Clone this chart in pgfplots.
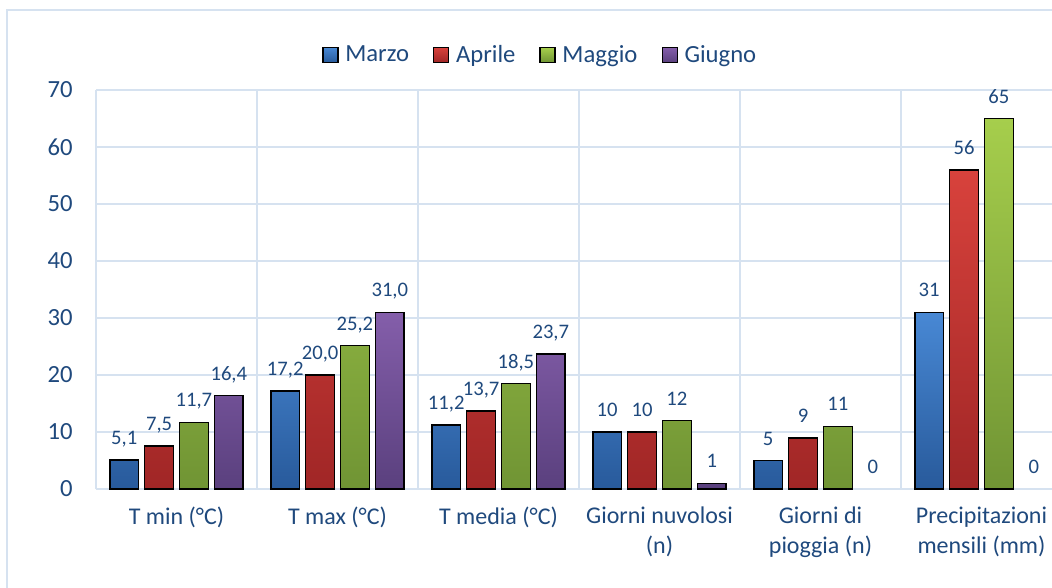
\documentclass[border=0pt]{standalone}
\usepackage{fontspec}
\setmainfont{Carlito}
\usepackage{pgfplots}
\pgfplotsset{compat=1.18}
\usepackage{pgfplotstable}
\definecolor{navy}{RGB}{31,73,125}
\definecolor{gridc}{RGB}{214,226,240}
\definecolor{bluet}{RGB}{72,136,212}
\definecolor{blueb}{RGB}{40,90,155}
\definecolor{redt}{RGB}{216,66,60}
\definecolor{redb}{RGB}{160,38,38}
\definecolor{greent}{RGB}{166,206,76}
\definecolor{greenb}{RGB}{112,148,52}
\definecolor{purplet}{RGB}{132,94,170}
\definecolor{purpleb}{RGB}{90,64,126}

\pgfplotstableread{
x y l
0 5.1 5,1
1 17.2 17,2
2 11.2 11,2
3 10 10
4 5 5
5 31 31
}\marzo
\pgfplotstableread{
x y l
0 7.5 7,5
1 20.0 20,0
2 13.7 13,7
3 10 10
4 9 9
5 56 56
}\aprile
\pgfplotstableread{
x y l
0 11.7 11,7
1 25.2 25,2
2 18.5 18,5
3 12 12
4 11 11
5 65 65
}\maggio
\pgfplotstableread{
x y l
0 16.4 16,4
1 31.0 31,0
2 23.7 23,7
3 1 1
}\giugno
\pgfplotstableread{
x y l
4 0 0
5 0 0
}\giugnozero

\pgfplotsset{
  mybar/.style n args={3}{ybar, bar width=21.7pt, bar shift=#1, draw=black, line width=1.2pt,
    top color=#2, bottom color=#3,
    nodes near coords,
    every node near coord/.append style={xshift=#1}},
}

\begin{document}
\begin{tikzpicture}
\begin{axis}[
  scale only axis, width=717pt, height=299.25pt,
  xmin=-0.5, xmax=5.438, ymin=0, ymax=70,
  axis line style={draw=none},
  tick style={draw=none},
  ytick={0,10,...,70},
  xtick={0,...,5},
  xticklabels={T min (°C), T max (°C), T media (°C), Giorni nuvolosi\\(n), Giorni di\\pioggia (n), Precipitazioni\\mensili (mm)},
  xticklabel style={align=center, font=\fontsize{18}{22.5}\selectfont, text=navy, yshift=-10pt},
  yticklabel style={font=\fontsize{18.5}{22}\selectfont, text=navy, xshift=-14pt},
  /pgf/number format/assume math mode=true,
  ymajorgrids, major grid style={gridc, line width=1pt},
  minor xtick={-0.5,0.5,...,4.5},
  xminorgrids, minor grid style={gridc, line width=1pt},
  legend columns=4,
  legend style={at={(0.4644,1.0877)}, anchor=center, draw=none, fill=none,
    font=\fontsize{18.5}{22}\selectfont, text=navy,
    nodes={inner sep=1pt},
    /tikz/every odd column/.append style={column sep=4pt},
    /tikz/every even column/.append style={column sep=17pt}},
  legend image code/.code={\draw[#1, draw=black, line width=1pt] (0pt,-5.6pt) rectangle (11.25pt,5.6pt);},
  every node near coord/.append style={font=\fontsize{15.5}{18}\selectfont, text=navy, anchor=base, inner sep=0pt, yshift=11.5pt},
  point meta=explicit symbolic,
]
\addplot[mybar={-39.24pt}{bluet}{blueb}] table[x=x,y=y,meta=l]{\marzo};
\addplot[mybar={-13.04pt}{redt}{redb}] table[x=x,y=y,meta=l]{\aprile};
\addplot[mybar={13.04pt}{greent}{greenb}] table[x=x,y=y,meta=l]{\maggio};
\addplot[mybar={39.24pt}{purplet}{purpleb}] table[x=x,y=y,meta=l]{\giugno};
\addplot[ybar, forget plot, bar width=21.7pt, bar shift=39.24pt, draw=none, fill=none, nodes near coords,
  every node near coord/.append style={xshift=39.24pt}] table[x=x,y=y,meta=l]{\giugnozero};
\legend{Marzo, Aprile, Maggio, Giugno}
\end{axis}
\draw[gridc, line width=1.2pt] (-66.75pt,-80pt) -- (-66.75pt,359.25pt) -- (730pt,359.25pt);
\pgfresetboundingbox
\useasboundingbox (-72pt,-73.5pt) rectangle (717pt,366.75pt);
\end{tikzpicture}
\end{document}
